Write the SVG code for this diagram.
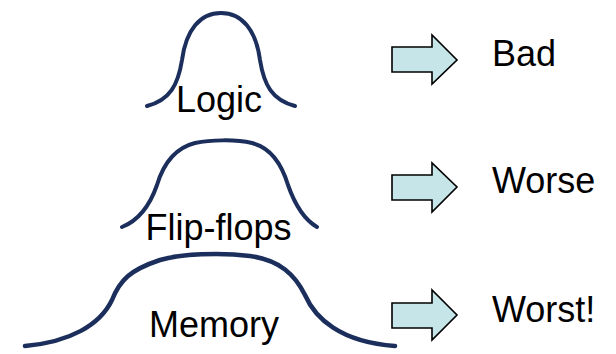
<svg xmlns="http://www.w3.org/2000/svg" width="616" height="354" viewBox="0 0 616 354">
  <style>
    .curve { fill: none; stroke: #1c2f5c; stroke-width: 4; stroke-linecap: round; stroke-linejoin: round; }
    .label { font-family: "Liberation Sans", Arial, sans-serif; font-size: 36px; fill: #000; }
    .mid { text-anchor: middle; }
    .block-arrow { fill: #c6e5e8; stroke: #000; stroke-width: 1.6; stroke-linejoin: miter; }
  </style>
  <rect width="616" height="354" fill="#fff"/>

  <!-- distribution curves with their labels -->
  <g id="logic">
    <path class="curve" d="M 147 106 C 170 100, 178 85, 182 60 C 186 30, 200 13, 221 13 C 242 13, 256 30, 260 60 C 264 85, 272 100, 295 106"/>
    <text class="label mid" x="219" y="112">Logic</text>
  </g>
  <g id="flipflops">
    <path class="curve" d="M 122 227 C 140 220, 150 205, 157 185 C 163 165, 175 148, 195 143 C 210 140, 235 139, 252 143 C 272 148, 282 165, 288 185 C 295 205, 305 220, 317 227"/>
    <text class="label mid" x="218.5" y="240">Flip-flops</text>
  </g>
  <g id="memory">
    <path class="curve" style="stroke-width:4.5" d="M 25 346 C 70 342, 100 325, 112 300 C 120 280, 130 270, 160 260 C 180 254, 220 252, 250 256 C 280 260, 295 275, 305 295 C 315 318, 340 342, 395 346"/>
    <text class="label mid" x="214" y="337">Memory</text>
  </g>

  <!-- outcome labels -->
  <g id="bad"><text class="label" x="492" y="66">Bad</text></g>
  <g id="worse"><text class="label" x="492" y="193">Worse</text></g>
  <g id="worst"><text class="label" x="492" y="322">Worst!</text></g>

  <!-- block arrows -->
  <g id="connectors">
    <polygon class="block-arrow" points="392,47 432,47 432,35 457,60 432,84 432,72 392,72"/>
    <polygon class="block-arrow" points="392,175 432,175 432,163 457,187 432,212 432,200 392,200"/>
    <polygon class="block-arrow" points="392,303 432,303 432,290 457,315 432,340 432,328 392,328"/>
  </g>
</svg>
